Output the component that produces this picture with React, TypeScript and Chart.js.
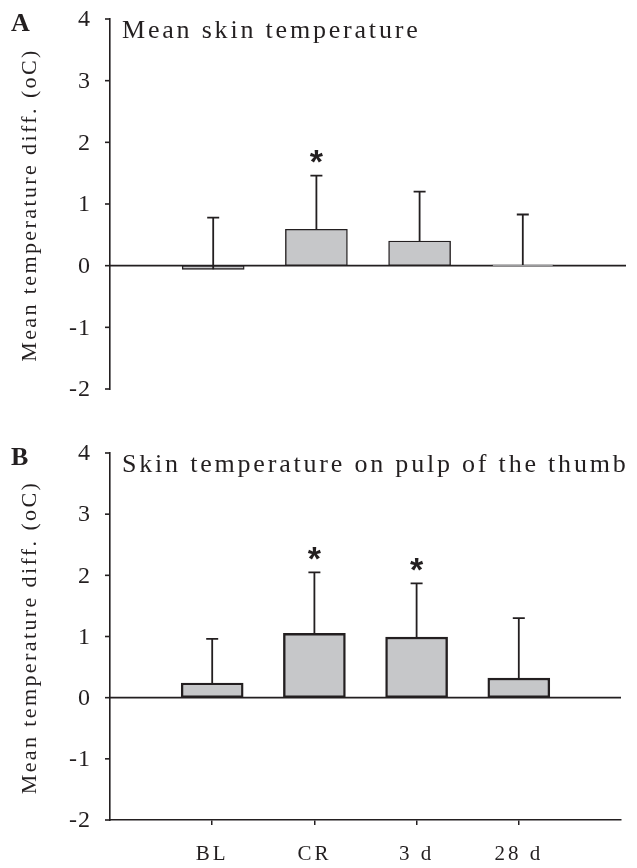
import React, { useEffect, useRef } from "react";
import { Chart, registerables } from "chart.js";

Chart.register(...registerables);

// ---- data ----
const categories = ["BL", "CR", "3 d", "28 d"];
const yTickValues = [-2, -1, 0, 1, 2, 3, 4];

const meanSkinValues = [-0.06, 0.59, 0.4, 0.01];
const meanSkinErrors = [0.84, 0.87, 0.8, 0.82];
const meanSkinSignificant = [false, true, false, false];

const thumbValues = [0.24, 1.05, 0.99, 0.32];
const thumbErrors = [0.72, 1.0, 0.88, 0.98];
const thumbSignificant = [false, true, true, false];

const titleA = "Mean skin temperature";
const titleB = "Skin temperature on pulp of the thumb";
const yAxisTitle = "Mean temperature diff. (oC)";

// ---- styles ----
const INK = "#231f20";
const BAR_FILL = "#c6c7c9";
const SERIF = "'Liberation Serif', 'Times New Roman', serif";

type PanelCfg = {
  letter: string;
  title: string;
  values: number[];
  errors: number[];
  significant: boolean[];
  showX: boolean;
  height: number;
  padding: { left: number; right: number; top: number; bottom: number };
  barBorder: number;
};

function makePlugin(cfg: PanelCfg) {
  return {
    id: "panelDecor" + cfg.letter,
    beforeDraw(chart: any) {
      chart.ctx.letterSpacing = "3px";
    },
    beforeDatasetsDraw(chart: any) {
      const { ctx, chartArea, scales } = chart;
      const y0 = scales.y.getPixelForValue(0);
      ctx.save();
      ctx.strokeStyle = INK;
      ctx.lineWidth = 1.6;
      ctx.beginPath();
      ctx.moveTo(chartArea.left, y0);
      ctx.lineTo(chartArea.right, y0);
      ctx.stroke();
      ctx.restore();
    },
    afterDatasetsDraw(chart: any) {
      const { ctx, scales } = chart;
      ctx.save();
      ctx.strokeStyle = INK;
      ctx.fillStyle = INK;
      ctx.lineWidth = 1.8;
      cfg.values.forEach((v, i) => {
        const x = scales.x.getPixelForValue(i + 1);
        const yv = scales.y.getPixelForValue(v);
        const ye = scales.y.getPixelForValue(v + cfg.errors[i]);
        ctx.beginPath();
        ctx.moveTo(x, yv);
        ctx.lineTo(x, ye);
        ctx.moveTo(x - 6, ye);
        ctx.lineTo(x + 6, ye);
        ctx.stroke();
        if (cfg.significant[i]) {
          ctx.font = "bold 34px 'Liberation Sans', Arial, sans-serif";
          ctx.letterSpacing = "0px";
          ctx.textAlign = "center";
          ctx.textBaseline = "alphabetic";
          const m = ctx.measureText("*");
          const asc = m.actualBoundingBoxAscent;
          const desc = m.actualBoundingBoxDescent;
          const center = ye - 19;
          ctx.fillText("*", x, center + (asc - desc) / 2);
        }
      });
      ctx.restore();
    },
    afterDraw(chart: any) {
      const { ctx, chartArea, scales } = chart;
      ctx.save();
      ctx.fillStyle = INK;
      ctx.strokeStyle = INK;
      // y ticks + labels
      ctx.lineWidth = 1.6;
      ctx.font = `24px ${SERIF}`;
      ctx.letterSpacing = "1px";
      ctx.textAlign = "right";
      ctx.textBaseline = "middle";
      yTickValues.forEach((v) => {
        const y = scales.y.getPixelForValue(v);
        ctx.beginPath();
        ctx.moveTo(chartArea.left - 5, y);
        ctx.lineTo(chartArea.left, y);
        ctx.stroke();
        ctx.fillText(String(v), chartArea.left - 19, y + 1);
      });
      // panel letter
      ctx.letterSpacing = "0px";
      ctx.font = `bold 26px ${SERIF}`;
      ctx.textAlign = "left";
      ctx.textBaseline = "alphabetic";
      ctx.fillText(cfg.letter, 11, chartArea.top + 12);
      // title
      ctx.font = `26px ${SERIF}`;
      ctx.letterSpacing = "2.8px";
      ctx.fillText(cfg.title, chartArea.left + 12, chartArea.top + 19);
      // y axis title
      ctx.font = `22px ${SERIF}`;
      ctx.letterSpacing = "2.4px";
      ctx.translate(30, (chartArea.top + chartArea.bottom) / 2 + 1);
      ctx.rotate(-Math.PI / 2);
      ctx.textAlign = "center";
      ctx.textBaseline = "middle";
      ctx.fillText(yAxisTitle, 0, 0);
      ctx.restore();
    },
  };
}

function buildConfig(cfg: PanelCfg): any {
  return {
    type: "bar",
    data: {
      datasets: [
        {
          data: cfg.values.map((v, i) => ({ x: i + 1, y: v })),
          backgroundColor: BAR_FILL,
          borderColor: INK,
          borderWidth: cfg.barBorder,
          borderSkipped: false,
          barThickness: 62,
        },
      ],
    },
    options: {
      responsive: false,
      animation: false,
      devicePixelRatio: 1,
      layout: { padding: cfg.padding },
      plugins: {
        legend: { display: false },
        tooltip: { enabled: false },
        title: { display: false },
      },
      scales: {
        x: {
          type: "linear",
          min: 0,
          max: categories.length + 1,
          offset: false,
          display: cfg.showX,
          afterBuildTicks: (s: any) => {
            s.ticks = categories.map((_, i) => ({ value: i + 1 }));
          },
          afterFit: (s: any) => {
            s.height = cfg.showX ? 48 : 0;
          },
          ticks: {
            autoSkip: false,
            maxRotation: 0,
            padding: 17,
            color: INK,
            font: { family: SERIF, size: 21 },
            callback: (v: number) => categories[Math.round(v) - 1] ?? "",
          },
          grid: { offset: false, drawOnChartArea: false, tickLength: 5, color: INK, lineWidth: 1.5 },
          border: { display: true, color: INK, width: 1.6 },
        },
        y: {
          min: -2,
          max: 4,
          afterBuildTicks: (s: any) => {
            s.ticks = yTickValues.map((v) => ({ value: v }));
          },
          afterFit: (s: any) => {
            s.width = 110;
          },
          ticks: { display: false },
          grid: { display: false },
          border: { display: true, color: INK, width: 1.6 },
        },
      },
    },
    plugins: [makePlugin(cfg)],
  };
}

function Panel({ cfg, top }: { cfg: PanelCfg; top: number }) {
  const ref = useRef<HTMLCanvasElement | null>(null);
  useEffect(() => {
    if (!ref.current) return;
    const chart = new Chart(ref.current, buildConfig(cfg));
    return () => chart.destroy();
  }, []);
  return (
    <div style={{ position: "absolute", left: 0, top, width: 637, height: cfg.height }}>
      <canvas ref={ref} width={637} height={cfg.height} style={{ width: 637, height: cfg.height, display: "block" }} />
    </div>
  );
}

const panelA: PanelCfg = {
  letter: "A",
  title: titleA,
  values: meanSkinValues,
  errors: meanSkinErrors,
  significant: meanSkinSignificant,
  showX: false,
  height: 420,
  padding: { left: 0, right: 11, top: 19, bottom: 31 },
  barBorder: 1.4,
};

const panelB: PanelCfg = {
  letter: "B",
  title: titleB,
  values: thumbValues,
  errors: thumbErrors,
  significant: thumbSignificant,
  showX: true,
  height: 448,
  padding: { left: 0, right: 16, top: 33, bottom: 0 },
  barBorder: 2.4,
};

export default function App() {
  return (
    <div style={{ position: "absolute", left: 0, top: 0, width: 637, height: 868, background: "#fff" }}>
      <Panel cfg={panelA} top={0} />
      <Panel cfg={panelB} top={420} />
    </div>
  );
}
